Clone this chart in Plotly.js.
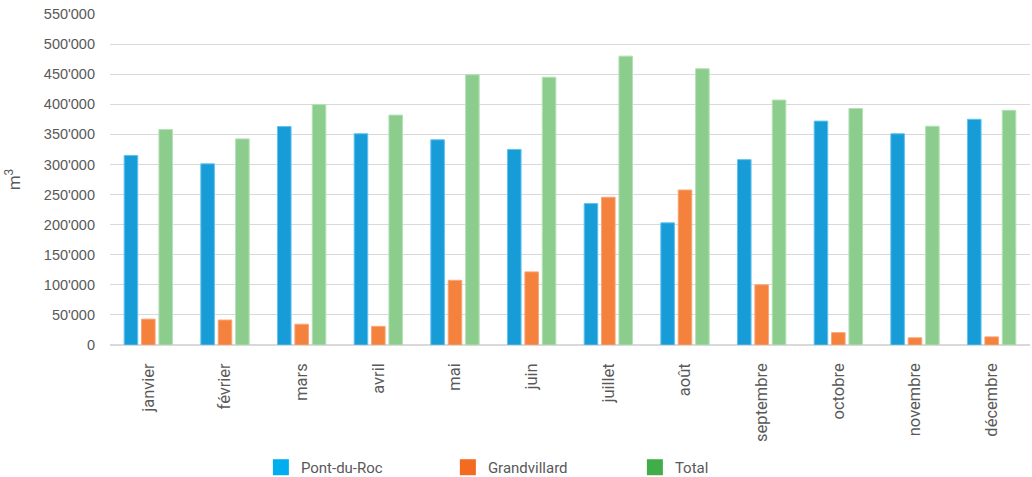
<!DOCTYPE html>
<html><head><meta charset="utf-8">
<script src="https://cdn.plot.ly/plotly-3.0.1.min.js"></script>
<style>html,body{margin:0;padding:0;background:#fff}#c{width:1032px;height:477px}</style>
</head><body><div id="c"></div>
<script>
const months = ["janvier","février","mars","avril","mai","juin","juillet","août","septembre","octobre","novembre","décembre"];
const pontDuRoc = [315000,301000,363000,351000,341000,325000,235000,203000,308000,372000,351000,375000];
const grandvillard = [43000,41500,34500,31000,107500,121500,245500,257500,100000,20500,12000,13500];
const total = [358000,342500,399500,382000,449000,445000,480000,459000,407000,393000,363500,390000];
const seriesNames = ["Pont-du-Roc","Grandvillard","Total"];

const barColors = ["#189CD8","#F4813C","#8CCD8E"];
const lineColors = ["#5EC3F0","#F9A57A","#B4E0B5"];
const legendColors = ["#00AEEF","#F26B21","#3FAE49"];
const values = [pontDuRoc, grandvillard, total];

const traces = values.map((v,i)=>({
  type:"bar", x:months, y:v, name:seriesNames[i], showlegend:false,
  marker:{color:barColors[i], line:{color:lineColors[i], width:1}},
  hoverinfo:"x+y+name"
}));
seriesNames.forEach((n,i)=>traces.push({
  type:"scatter", mode:"markers", x:[-1], y:[-1], name:n, xaxis:"x2", yaxis:"y2",
  marker:{symbol:"square", size:20, color:legendColors[i]}, showlegend:true
}));

const layout = {
  width:1032, height:477,
  margin:{l:110, r:2, t:14, b:132, autoexpand:false},
  paper_bgcolor:"#fff", plot_bgcolor:"#fff",
  separators:".'",
  barmode:"group", bargap:0.32, bargroupgap:0.22,
  font:{family:"Roboto, sans-serif", color:"#595959"},
  xaxis:{
    type:"category", tickangle:-90, showgrid:false, showline:false, zeroline:false,
    ticks:"", ticklabelstandoff:14, automargin:false,
    tickfont:{family:"Roboto, sans-serif", size:16.5, color:"#595959"}
  },
  yaxis:{
    range:[0,550000], dtick:50000, tickformat:",d", automargin:false,
    gridcolor:"#D9D9D9", gridwidth:1, zeroline:true, zerolinecolor:"#D9D9D9", zerolinewidth:2,
    showline:false, ticks:"", ticklabelstandoff:14,
    tickfont:{family:"Liberation Sans, Arial, sans-serif", size:14.5, color:"#595959"},
    title:{text:"m<sup>3</sup>", standoff:18, font:{family:"Roboto, sans-serif", size:17, color:"#595959"}}
  },
  xaxis2:{visible:false, overlaying:"x", range:[0,1]},
  yaxis2:{visible:false, overlaying:"y", range:[0,1]},
  legend:{orientation:"h", x:0.164, y:-0.37, xanchor:"left", yanchor:"middle",
    entrywidth:142, entrywidthmode:"pixels",
    font:{family:"Roboto, sans-serif", size:15, color:"#595959"}}
};
Plotly.newPlot("c", traces, layout, {displayModeBar:false, staticPlot:true});
</script>
</body></html>
